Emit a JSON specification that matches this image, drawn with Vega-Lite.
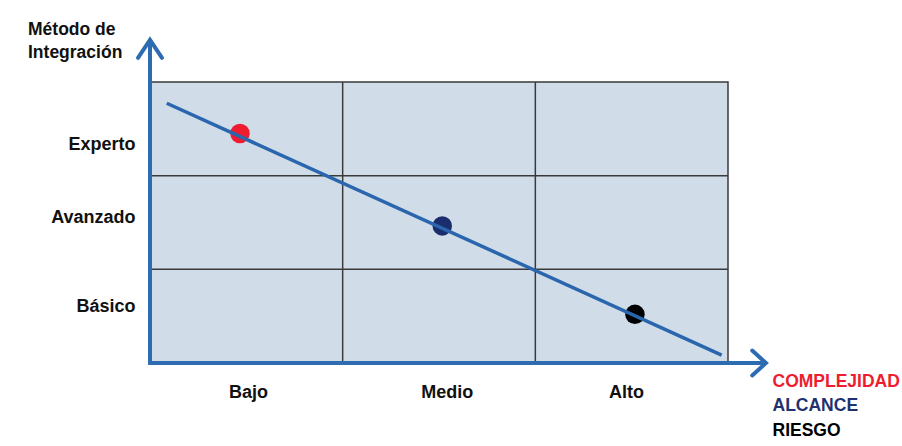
{
  "$schema": "https://vega.github.io/schema/vega-lite/v6.json",
  "width": 578,
  "height": 281,
  "autosize": {"type": "none"},
  "padding": {"left": 150, "top": 82, "right": 174, "bottom": 83},
  "background": "white",
  "title": {
    "text": ["Método de", "Integración"],
    "anchor": "start",
    "frame": "group",
    "font": "Liberation Sans",
    "fontSize": 17.5,
    "fontWeight": "bold",
    "color": "#111111",
    "lineHeight": 23,
    "dx": -122,
    "dy": 52,
    "offset": 22
  },
  "config": {
    "view": {"fill": "#d1dce9", "stroke": "#3a3a3a", "strokeWidth": 1.5},
    "font": "Liberation Sans"
  },
  "layer": [
    {
      "data": {"values": [{"x": 1}, {"x": 2}]},
      "mark": {"type": "rule", "color": "#3a3a3a", "strokeWidth": 1.5},
      "encoding": {
        "x": {
          "field": "x", "type": "quantitative",
          "scale": {"domain": [0, 3], "nice": false, "zero": false},
          "axis": {
            "values": [0.509, 1.54, 2.47],
            "labelExpr": "datum.value < 1 ? 'Bajo' : datum.value < 2 ? 'Medio' : 'Alto'",
            "title": null, "domain": false, "ticks": false, "grid": false,
            "labelFontSize": 18, "labelFontWeight": "bold", "labelColor": "#111111",
            "labelPadding": 20, "labelFont": "Liberation Sans"
          }
        }
      }
    },
    {
      "data": {"values": [{"y": 1}, {"y": 2}]},
      "mark": {"type": "rule", "color": "#3a3a3a", "strokeWidth": 1.5},
      "encoding": {
        "y": {
          "field": "y", "type": "quantitative",
          "scale": {"domain": [0, 3], "nice": false, "zero": false},
          "axis": {
            "values": [0.6, 1.55, 2.33],
            "labelExpr": "datum.value < 1 ? 'Básico' : datum.value < 2 ? 'Avanzado' : 'Experto'",
            "title": null, "domain": false, "ticks": false, "grid": false,
            "labelFontSize": 18, "labelFontWeight": "bold", "labelColor": "#111111",
            "labelPadding": 15, "labelFont": "Liberation Sans"
          }
        }
      }
    },
    {
      "data": {"values": [
        {"serie": "COMPLEJIDAD", "x": 0.467, "y": 2.45},
        {"serie": "ALCANCE", "x": 1.517, "y": 1.463},
        {"serie": "RIESGO", "x": 2.517, "y": 0.52}
      ]},
      "mark": {"type": "point", "filled": true, "opacity": 1, "size": 380},
      "encoding": {
        "x": {"field": "x", "type": "quantitative"},
        "y": {"field": "y", "type": "quantitative"},
        "color": {
          "field": "serie", "type": "nominal",
          "scale": {"domain": ["COMPLEJIDAD", "ALCANCE", "RIESGO"], "range": ["#ee1c2e", "#1c2d6e", "#000000"]},
          "legend": {
            "orient": "none", "legendX": 605, "legendY": 291,
            "title": null, "symbolSize": 0, "symbolStrokeWidth": 0, "symbolOpacity": 0,
            "labelOffset": 0, "labelFontSize": 17.5, "labelFontWeight": "bold",
            "labelFont": "Liberation Sans", "rowPadding": 5.5, "padding": 0,
            "labelColor": {"expr": "datum.label == 'COMPLEJIDAD' ? '#ee1c2e' : datum.label == 'ALCANCE' ? '#1f3170' : '#000000'"}
          }
        }
      }
    },
    {
      "data": {"values": [{"x": 0.087, "y": 2.773}, {"x": 2.967, "y": 0.085}]},
      "mark": {"type": "line", "color": "#2a66ad", "strokeWidth": 3.5},
      "encoding": {
        "x": {"field": "x", "type": "quantitative"},
        "y": {"field": "y", "type": "quantitative"}
      }
    },
    {
      "data": {"values": [{}]},
      "mark": {"type": "rule", "color": "#2e6cb2", "strokeWidth": 4},
      "encoding": {
        "x": {"datum": 0},
        "y": {"datum": 0},
        "y2": {"datum": 3.45}
      }
    },
    {
      "data": {"values": [{}]},
      "mark": {"type": "rule", "color": "#2e6cb2", "strokeWidth": 4},
      "encoding": {
        "x": {"datum": -0.01},
        "x2": {"datum": 3.197},
        "y": {"datum": 0}
      }
    },
    {
      "data": {"values": [{}]},
      "mark": {"type": "point", "shape": "M -1 1.5 L 0 0 L 1 1.5", "size": 576, "filled": false, "opacity": 1, "color": "#2e6cb2", "strokeWidth": 4, "strokeJoin": "miter", "strokeCap": "round"},
      "encoding": {
        "x": {"datum": 0},
        "y": {"datum": 3.45}
      }
    },
    {
      "data": {"values": [{}]},
      "mark": {"type": "point", "shape": "M -1.1 -1 L 0 0 L -1.1 1", "size": 625, "filled": false, "opacity": 1, "color": "#2e6cb2", "strokeWidth": 4, "strokeJoin": "miter", "strokeCap": "round"},
      "encoding": {
        "x": {"datum": 3.197},
        "y": {"datum": 0}
      }
    }
  ]
}
